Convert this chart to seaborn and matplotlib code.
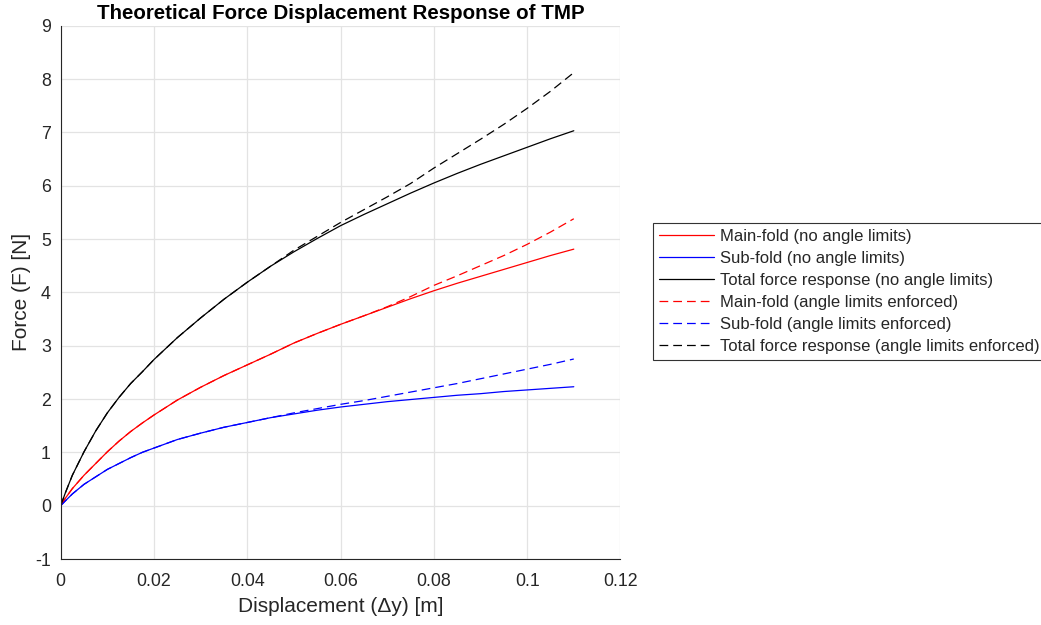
import matplotlib
matplotlib.use("Agg")
import matplotlib.pyplot as plt
import seaborn as sns

# ---- data ----
disp = [0, 0.001, 0.0025, 0.005, 0.0075, 0.01, 0.0125, 0.015, 0.0175, 0.02,
        0.025, 0.03, 0.035, 0.04, 0.045, 0.05, 0.055, 0.06, 0.065, 0.07,
        0.075, 0.08, 0.085, 0.09, 0.095, 0.10, 0.105, 0.11]

main_fold = [0, 0.14, 0.32, 0.57, 0.79, 1.01, 1.21, 1.39, 1.55, 1.70,
             1.98, 2.22, 2.44, 2.64, 2.84, 3.05, 3.23, 3.40, 3.56, 3.72,
             3.88, 4.03, 4.17, 4.30, 4.43, 4.56, 4.69, 4.81]
sub_fold = [0, 0.09, 0.22, 0.40, 0.54, 0.68, 0.79, 0.90, 1.00, 1.08,
            1.24, 1.36, 1.47, 1.56, 1.65, 1.72, 1.79, 1.85, 1.90, 1.95,
            1.99, 2.03, 2.07, 2.10, 2.14, 2.17, 2.20, 2.23]
total = [0, 0.24, 0.57, 1.01, 1.40, 1.74, 2.03, 2.29, 2.51, 2.74,
         3.15, 3.52, 3.87, 4.19, 4.49, 4.76, 5.01, 5.25, 5.46, 5.66,
         5.86, 6.05, 6.23, 6.40, 6.56, 6.72, 6.88, 7.03]

main_fold_lim = [0, 0.14, 0.32, 0.57, 0.79, 1.01, 1.21, 1.39, 1.55, 1.70,
                 1.98, 2.22, 2.44, 2.64, 2.84, 3.05, 3.23, 3.40, 3.56, 3.73,
                 3.92, 4.13, 4.31, 4.50, 4.69, 4.90, 5.13, 5.38]
sub_fold_lim = [0, 0.09, 0.22, 0.40, 0.54, 0.68, 0.79, 0.90, 1.00, 1.08,
                1.24, 1.36, 1.47, 1.56, 1.65, 1.74, 1.82, 1.90, 1.97, 2.05,
                2.13, 2.21, 2.29, 2.38, 2.47, 2.56, 2.65, 2.75]
total_lim = [0, 0.24, 0.57, 1.01, 1.40, 1.74, 2.03, 2.29, 2.51, 2.74,
             3.15, 3.52, 3.87, 4.19, 4.49, 4.79, 5.05, 5.31, 5.55, 5.79,
             6.04, 6.33, 6.60, 6.87, 7.15, 7.45, 7.77, 8.12]

labels = [
    "Main-fold (no angle limits)",
    "Sub-fold (no angle limits)",
    "Total force response (no angle limits)",
    "Main-fold (angle limits enforced)",
    "Sub-fold (angle limits enforced)",
    "Total force response (angle limits enforced)",
]
series = [main_fold, sub_fold, total, main_fold_lim, sub_fold_lim, total_lim]
colors = ["#ff0000", "#0000ff", "#000000", "#ff0000", "#0000ff", "#000000"]
styles = ["-", "-", "-", "--", "--", "--"]

x_ticks = [0, 0.02, 0.04, 0.06, 0.08, 0.1, 0.12]
x_ticklabels = ["0", "0.02", "0.04", "0.06", "0.08", "0.1", "0.12"]
y_ticks = list(range(-1, 10))

# ---- style ----
sns.set_style("white")
plt.rcParams["font.family"] = ["Liberation Sans", "DejaVu Sans"]
plt.rcParams["lines.dashed_pattern"] = [7, 4]
plt.rcParams["axes.unicode_minus"] = False

dark = "#262626"
fig = plt.figure(figsize=(10.41, 6.25), dpi=100)
ax = fig.add_axes([0.0583, 0.1056, 0.5377, 0.8533])

for y, lab, c, ls in zip(series, labels, colors, styles):
    sns.lineplot(x=disp, y=y, ax=ax, color=c, linestyle=ls, linewidth=0.9,
                 label=lab, estimator=None, sort=False)

ax.set_xlim(0, 0.12)
ax.set_ylim(-1, 9)
ax.set_xticks(x_ticks)
ax.set_xticklabels(x_ticklabels)
ax.set_yticks(y_ticks)
ax.set_yticklabels([str(v) for v in y_ticks])
ax.grid(True, color="#e3e3e3", linewidth=0.9)
ax.set_axisbelow(True)

for s in ["top", "right"]:
    ax.spines[s].set_visible(False)
for s in ["left", "bottom"]:
    ax.spines[s].set_color(dark)
    ax.spines[s].set_linewidth(0.8)

ax.tick_params(axis="both", direction="in", length=5, width=0.8, color=dark,
               labelcolor=dark, labelsize=12.8)
ax.tick_params(axis="x", pad=10)
ax.tick_params(axis="y", pad=7)

ax.set_xlabel("Displacement (\u0394y) [m]", fontsize=15, color=dark, labelpad=5)
ax.set_ylabel("Force (F) [N]", fontsize=15, color=dark, labelpad=3)
ax.set_title("Theoretical Force Displacement Response of TMP", fontsize=14.8,
             fontweight="bold", color="black", pad=5)

leg = ax.legend(loc="upper left", bbox_to_anchor=(0.627, 0.6427),
                bbox_transform=fig.transFigure, fontsize=12, frameon=True,
                fancybox=False, shadow=False, framealpha=1, edgecolor="#333333",
                handlelength=3.3, handletextpad=0.4, labelspacing=0.42,
                borderpad=0.35, borderaxespad=0)
leg.get_frame().set_linewidth(0.8)

fig.savefig("out.png", dpi=100)
